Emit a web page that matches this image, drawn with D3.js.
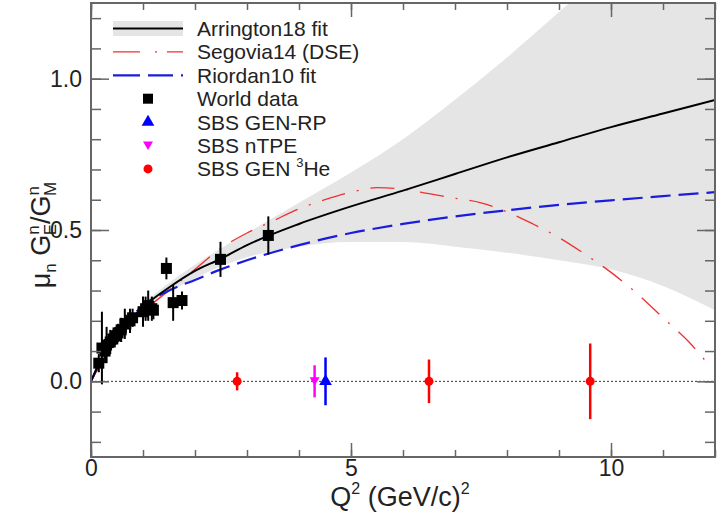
<!DOCTYPE html>
<html>
<head>
<meta charset="utf-8">
<script src="https://cdn.jsdelivr.net/npm/d3@7"></script>
<style>
	body { margin: 0; background: #fff; }
	text { font-family: "Liberation Sans", Arial, sans-serif; fill: #222; }
</style>
</head>
<body>
<svg id="ratio" width="724" height="513"></svg>
<script>
// curves
var curveQ2 = [0, 0.25, 0.5, 1, 1.5, 2, 2.5, 3, 4, 5, 6, 7, 8, 9, 10, 11, 12];
var arringtonFit = [0, 0.09, 0.15, 0.245, 0.31, 0.365, 0.405, 0.45, 0.52, 0.578, 0.63, 0.685, 0.74, 0.79, 0.84, 0.885, 0.93];
var arringtonUpper = [0, 0.09, 0.155, 0.255, 0.325, 0.385, 0.44, 0.49, 0.59, 0.69, 0.8, 0.93, 1.07, 1.22, 1.37, 1.52, 1.67];
var arringtonLower = [0, 0.09, 0.145, 0.235, 0.295, 0.34, 0.38, 0.41, 0.445, 0.46, 0.46, 0.445, 0.425, 0.40, 0.37, 0.315, 0.235];
var riordanFit = [0, 0.09, 0.155, 0.25, 0.30, 0.335, 0.37, 0.40, 0.45, 0.49, 0.52, 0.545, 0.565, 0.583, 0.598, 0.612, 0.625];

var segoviaQ2 = [0, 0.5, 1, 1.5, 2, 2.5, 3, 3.5, 4, 4.5, 5, 5.5, 6, 6.5, 7, 7.5, 8, 8.5, 9, 9.5, 10, 10.5, 11, 11.5, 11.9];
var segoviaDSE = [0, 0.14, 0.23, 0.30, 0.37, 0.44, 0.49, 0.53, 0.57, 0.60, 0.625, 0.64, 0.635, 0.62, 0.605, 0.59, 0.56, 0.52, 0.475, 0.42, 0.36, 0.29, 0.21, 0.13, 0.05];

// world data
var worldQ2 = [0.15, 0.21, 0.27, 0.30, 0.37, 0.42, 0.47, 0.52, 0.58, 0.65, 0.67, 0.75, 0.80, 1.00, 1.05, 1.10, 1.17, 1.20, 1.45, 1.58, 1.75, 2.49, 3.41];
var worldRatio = [0.06, 0.11, 0.10, 0.12, 0.13, 0.14, 0.15, 0.16, 0.17, 0.19, 0.19, 0.20, 0.21, 0.23, 0.24, 0.25, 0.24, 0.235, 0.373, 0.26, 0.267, 0.403, 0.482];
var worldErr = [0.03, 0.12, 0.04, 0.06, 0.04, 0.03, 0.03, 0.03, 0.04, 0.05, 0.03, 0.04, 0.03, 0.05, 0.04, 0.05, 0.04, 0.03, 0.036, 0.06, 0.03, 0.058, 0.063];

// SBS projections (plotted at 0)
var gen3HeQ2 = [2.81, 6.50, 9.60];
var gen3HeErr = [0.03, 0.072, 0.125];
var genRpQ2 = [4.51];
var genRpErr = [0.079];
var ntpeQ2 = [4.30];
var ntpeErr = [0.053];

var legendLabels = ["Arrington18 fit", "Segovia14 (DSE)", "Riordan10 fit", "World data", "SBS GEN-RP", "SBS nTPE", "SBS GEN \u00b3He"];

(function () {
	var svg = d3.select("#ratio");
	var margin = { top: 3, right: 9, bottom: 56, left: 91 },
		width = +svg.attr("width") - margin.left - margin.right,
		height = +svg.attr("height") - margin.top - margin.bottom;

	var g = svg.append("g").attr("transform", "translate(" + margin.left + "," + margin.top + ")");

	var x = d3.scaleLinear().domain([0, 12]).range([0, width]);
	var y = d3.scaleLinear().domain([-0.25, 1.25]).range([height, 0]);

	g.append("clipPath").attr("id", "plotclip")
		.append("rect").attr("width", width).attr("height", height);

	var plot = g.append("g").attr("clip-path", "url(#plotclip)");

	// uncertainty band
	var band = d3.area()
		.x(function (d, i) { return x(curveQ2[i]); })
		.y0(function (d, i) { return y(arringtonLower[i]); })
		.y1(function (d, i) { return y(arringtonUpper[i]); })
		.curve(d3.curveMonotoneX);
	plot.append("path").datum(curveQ2).attr("d", band).attr("fill", "#e5e5e5");

	var line = d3.line()
		.x(function (d) { return x(d[0]); })
		.y(function (d) { return y(d[1]); })
		.curve(d3.curveMonotoneX);

	// zero line
	plot.append("line")
		.attr("x1", 0).attr("x2", width)
		.attr("y1", y(0)).attr("y2", y(0))
		.attr("stroke", "#333").attr("stroke-width", 1)
		.attr("stroke-dasharray", "2 2");

	plot.append("path")
		.datum(d3.zip(segoviaQ2, segoviaDSE))
		.attr("d", line).attr("fill", "none")
		.attr("stroke", "#f03030").attr("stroke-width", 1.3)
		.attr("stroke-dasharray", "24 12 2 12");

	plot.append("path")
		.datum(d3.zip(curveQ2, riordanFit))
		.attr("d", line).attr("fill", "none")
		.attr("stroke", "#1c1cdc").attr("stroke-width", 2.2)
		.attr("stroke-dasharray", "20 8");

	plot.append("path")
		.datum(d3.zip(curveQ2, arringtonFit))
		.attr("d", line).attr("fill", "none")
		.attr("stroke", "#000").attr("stroke-width", 2);

	// world data
	var world = d3.range(worldQ2.length).map(function (i) {
		return { q: worldQ2[i], v: worldRatio[i], e: worldErr[i] };
	});
	plot.selectAll(".werr").data(world).enter().append("line")
		.attr("class", "werr")
		.attr("x1", function (d) { return x(d.q); })
		.attr("x2", function (d) { return x(d.q); })
		.attr("y1", function (d) { return y(d.v - d.e); })
		.attr("y2", function (d) { return y(d.v + d.e); })
		.attr("stroke", "#000").attr("stroke-width", 2);
	plot.selectAll(".wpt").data(world).enter().append("rect")
		.attr("class", "wpt")
		.attr("x", function (d) { return x(d.q) - 5.5; })
		.attr("y", function (d) { return y(d.v) - 5.5; })
		.attr("width", 11).attr("height", 11)
		.attr("fill", "#000");

	// projections
	function proj(qs, errs, color, symbol) {
		var pts = qs.map(function (q, i) { return { q: q, e: errs[i] }; });
		plot.selectAll(null).data(pts).enter().append("line")
			.attr("x1", function (d) { return x(d.q); })
			.attr("x2", function (d) { return x(d.q); })
			.attr("y1", function (d) { return y(-d.e); })
			.attr("y2", function (d) { return y(d.e); })
			.attr("stroke", color).attr("stroke-width", 2.5);
		plot.selectAll(null).data(pts).enter().append("path")
			.attr("d", symbol)
			.attr("transform", function (d) { return "translate(" + x(d.q) + "," + y(0) + ")"; })
			.attr("fill", color);
	}
	var circleSym = d3.symbol().type(d3.symbolCircle).size(64)();
	var triSym = d3.symbol().type(d3.symbolTriangle).size(70)();
	var downSym = "M0,4.5L-5,-4L5,-4Z";
	proj(ntpeQ2, ntpeErr, "#ff00ff", downSym);
	proj(genRpQ2, genRpErr, "#0000ff", triSym);
	proj(gen3HeQ2, gen3HeErr, "#ff0000", circleSym);

	// axes, ticks inward on all four sides
	var frame = "#666";
	function styleAxis(sel) {
		sel.select(".domain").remove();
		sel.selectAll(".tick line").attr("stroke", frame).attr("stroke-width", 1.5);
		sel.selectAll("text").attr("font-size", 23).attr("fill", "#222")
			.style("font-family", "Liberation Sans, Arial, sans-serif");
	}
	var xMajor = [0, 5, 10], xMinor = d3.range(0, 13);
	var yMajor = [0, 0.5, 1.0], yMinor = d3.range(-0.2, 1.25, 0.1);

	g.append("g").attr("transform", "translate(0," + height + ")")
		.call(d3.axisBottom(x).tickValues(xMinor).tickSize(-7).tickFormat("")).call(styleAxis);
	g.append("g").attr("transform", "translate(0," + height + ")")
		.call(d3.axisBottom(x).tickValues(xMajor).tickSize(-14).tickPadding(3).tickFormat(d3.format("d"))).call(styleAxis);
	g.append("g")
		.call(d3.axisTop(x).tickValues(xMinor).tickSize(-7).tickFormat("")).call(styleAxis);
	g.append("g")
		.call(d3.axisTop(x).tickValues(xMajor).tickSize(-14).tickFormat("")).call(styleAxis);

	g.append("g")
		.call(d3.axisLeft(y).tickValues(yMinor).tickSize(-10).tickFormat("")).call(styleAxis);
	g.append("g")
		.call(d3.axisLeft(y).tickValues(yMajor).tickSize(-18).tickPadding(9).tickFormat(d3.format(".1f"))).call(styleAxis);
	g.append("g").attr("transform", "translate(" + width + ",0)")
		.call(d3.axisRight(y).tickValues(yMinor).tickSize(-10).tickFormat("")).call(styleAxis);
	g.append("g").attr("transform", "translate(" + width + ",0)")
		.call(d3.axisRight(y).tickValues(yMajor).tickSize(-18).tickFormat("")).call(styleAxis);

	g.append("rect").attr("width", width).attr("height", height)
		.attr("fill", "none").attr("stroke", frame).attr("stroke-width", 2);

	// axis titles
	var xt = svg.append("text")
		.attr("x", 400).attr("y", 506)
		.attr("text-anchor", "middle").attr("font-size", 27);
	xt.append("tspan").text("Q");
	xt.append("tspan").attr("font-size", 16).attr("dy", -12).text("2");
	xt.append("tspan").attr("dy", 12).text(" (GeV/c)");
	xt.append("tspan").attr("font-size", 16).attr("dy", -12).text("2");

	var yt = svg.append("text")
		.attr("transform", "translate(50,235) rotate(-90)")
		.attr("text-anchor", "middle").attr("font-size", 27);
	yt.append("tspan").text("\u03bc");
	yt.append("tspan").attr("font-size", 17).attr("dy", 6).text("n");
	yt.append("tspan").attr("dy", -6).text(" G");
	yt.append("tspan").attr("font-size", 17).attr("dy", -11).text("n");
	yt.append("tspan").attr("font-size", 17).attr("dx", -10).attr("dy", 17).text("E");
	yt.append("tspan").attr("dy", -6).text("/G");
	yt.append("tspan").attr("font-size", 17).attr("dy", -11).text("n");
	yt.append("tspan").attr("font-size", 17).attr("dx", -10).attr("dy", 17).text("M");

	// legend
	var rowY = d3.range(legendLabels.length).map(function (i) { return 28.5 + i * 23.4; });
	var lg = svg.append("g");
	lg.append("rect").attr("x", 113).attr("y", rowY[0] - 7.5).attr("width", 70).attr("height", 15).attr("fill", "#e5e5e5");
	lg.append("line").attr("x1", 113).attr("x2", 183).attr("y1", rowY[0]).attr("y2", rowY[0])
		.attr("stroke", "#000").attr("stroke-width", 2);
	lg.append("line").attr("x1", 113).attr("x2", 183).attr("y1", rowY[1]).attr("y2", rowY[1])
		.attr("stroke", "#f03030").attr("stroke-width", 1.3).attr("stroke-dasharray", "27 15 2 10");
	lg.append("line").attr("x1", 113).attr("x2", 185).attr("y1", rowY[2]).attr("y2", rowY[2])
		.attr("stroke", "#1c1cdc").attr("stroke-width", 2.2).attr("stroke-dasharray", "27 8 25 8 2");
	lg.append("rect").attr("x", 143).attr("y", rowY[3] - 5).attr("width", 10).attr("height", 10).attr("fill", "#000");
	lg.append("path").attr("d", triSym).attr("transform", "translate(148," + rowY[4] + ")").attr("fill", "#0000ff");
	lg.append("path").attr("d", downSym).attr("transform", "translate(148," + rowY[5] + ")").attr("fill", "#ff00ff");
	lg.append("path").attr("d", circleSym).attr("transform", "translate(148," + rowY[6] + ")").attr("fill", "#ff0000");

	lg.selectAll(".ltext").data(legendLabels.slice(0, 6)).enter().append("text")
		.attr("class", "ltext")
		.attr("x", 197).attr("y", function (d, i) { return rowY[i]; })
		.attr("dy", "0.36em").attr("font-size", 21)
		.text(function (d) { return d; });
	var he = lg.append("text").attr("x", 197).attr("y", rowY[6]).attr("dy", "0.36em").attr("font-size", 21);
	he.append("tspan").text("SBS GEN ");
	he.append("tspan").attr("font-size", 13).attr("dy", -9).text("3");
	he.append("tspan").attr("dy", 9).text("He");
}) ();
</script>
</body>
</html>
